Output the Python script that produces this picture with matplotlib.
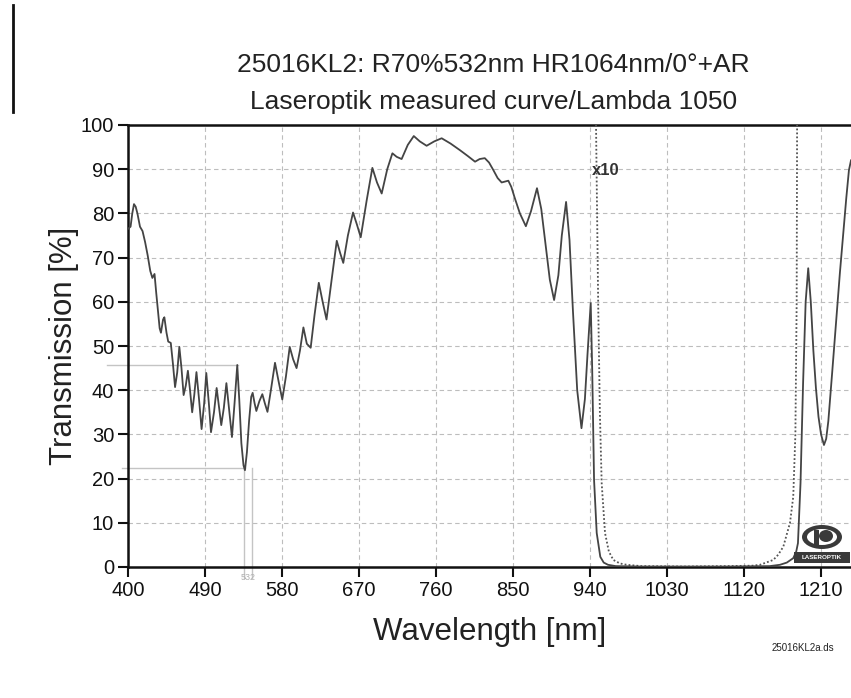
import matplotlib
matplotlib.use("Agg")
import matplotlib.pyplot as plt
from matplotlib.patches import Ellipse, Rectangle
from matplotlib.lines import Line2D

plt.rcParams['font.family'] = ['Liberation Sans', 'DejaVu Sans']

# ---------------- data ----------------
wl_solid = [400, 403, 405, 407, 409, 411, 414, 417, 420, 423, 426, 428.5, 431, 433, 435, 437, 438.5,
            441, 442.5, 445, 447, 450, 452.5, 455, 457.5, 460, 462.5, 465, 467.5, 470,
            472.5, 475, 477.5, 480, 483, 486, 489, 491.5, 494.5, 497, 500.5, 503.6, 506.5,
            509, 512, 515, 518.5, 521.5, 524.5, 527.7, 530, 532.5, 535, 536.7, 539, 541.5,
            544, 545.7, 548, 550, 553.5, 557, 560, 563, 567, 571.8, 576, 580.3, 584.5, 589,
            593, 597, 601, 605, 609, 613.5, 618, 623, 627.5, 632, 638, 644, 648, 651.6, 657,
            663, 667.5, 672, 679, 685.6, 691, 696.5, 703, 709, 714, 719.8, 727, 734, 741,
            749, 758, 766.6, 777, 788, 797, 805.6, 811, 817, 822, 827, 832, 836.7, 840.5,
            844.5, 848, 852, 858, 865, 871, 878, 883, 888, 893, 898, 903, 907, 912, 916,
            920, 925, 930, 934, 937, 940.8, 942.5, 944.7, 947.8, 952, 956, 961, 970, 1000,
            1100, 1150, 1162, 1170, 1177.5, 1181, 1183, 1186, 1189, 1192, 1195, 1198, 1201,
            1204, 1207, 1210, 1213.4, 1216, 1218.5, 1223, 1228, 1232, 1236, 1239.5, 1242.6, 1245]
t_solid = [76.5, 77, 80, 82.1, 81.5, 80, 77, 76, 73.5, 70.5, 67, 65.4, 66.3, 62, 58, 54, 53,
           56, 56.5, 53, 51, 50.7, 46, 40.7, 44, 49.8, 45, 38.9, 41, 44.4,
           40, 35, 39, 44.1, 38, 31.2, 37, 43.9, 37, 30.5, 35, 40.5, 36,
           32.1, 36, 41.6, 35, 29.4, 37, 45.7, 38, 28, 23, 21.9, 26, 33,
           38.5, 39.4, 37, 35.3, 37.5, 39.1, 37, 35.1, 40, 46.2, 42, 37.9, 43, 49.8,
           47, 45, 49, 54.2, 50.5, 49.6, 57, 64.3, 60, 56, 65, 73.8, 71, 68.8, 75,
           80.2, 77.5, 74.6, 83, 90.3, 87, 84.5, 90, 93.6, 92.8, 92.3, 95.5, 97.5, 96.3,
           95.3, 96.3, 97, 95.8, 94.3, 93, 91.7, 92.3, 92.5, 91.5, 89.8, 88, 87, 87.2,
           87.4, 86, 83.5, 80, 77.1, 80.5, 85.7, 81, 73, 65, 60.4, 66, 75, 82.6, 74,
           58, 40, 31.4, 38, 48, 59.7, 45, 19.7, 7.7, 2.3, 1, 0.5, 0.2, 0.1,
           0.1, 0.2, 0.5, 1, 2, 3.5, 5.4, 19, 41.6, 60, 67.6, 60, 49,
           40.5, 34, 30, 27.6, 29, 33, 44, 56.6, 66.5, 75.6, 83.5, 89.8, 92]

# "x10" magnified trace (dotted)
wl_x10 = [947, 949.5, 951.5, 953.6, 957.5, 962, 967.2, 975, 982.8, 1000, 1050, 1100,
          1130, 1138.7, 1154.2, 1160, 1165.9, 1173.7, 1177.5, 1180, 1181.5, 1182]
t_x10 = [100, 60, 35, 19, 7.7, 3.5, 1.6, 0.8, 0.5, 0.2, 0.1, 0.2,
         0.3, 0.5, 1.6, 2.8, 4.6, 10, 15.9, 30, 60, 100]

# hand-drawn marks on the scan (around 532 nm)
mark_h_levels = [45.7, 22.3]
mark_h_start = [375.5, 393]
mark_h_end = [528.5, 536.7]
mark_v_wl = [535.4, 544.7]

x_ticks = [400, 490, 580, 670, 760, 850, 940, 1030, 1120, 1210]
y_ticks = [0, 10, 20, 30, 40, 50, 60, 70, 80, 90, 100]

title1 = "25016KL2: R70%532nm HR1064nm/0°+AR"
title2 = "Laseroptik measured curve/Lambda 1050"

# ---------------- figure ----------------
W, H = 851, 698
fig = plt.figure(figsize=(W / 100, H / 100), dpi=100)
fig.patch.set_facecolor('white')

def fx(px):
    return px / W

def fy(py):
    return 1 - py / H

ax = fig.add_axes([fx(128), fy(567), fx(851) - fx(128), fy(125) - fy(567)])
ax.set_xlim(400, 1245)
ax.set_ylim(0, 100)

ax.grid(True, linestyle=(0, (4, 3)), color='#bdbdbd', linewidth=0.8)
ax.set_axisbelow(True)

for s in ['top', 'left', 'bottom']:
    ax.spines[s].set_linewidth(1.8)
    ax.spines[s].set_color('#111111')
ax.spines['right'].set_visible(False)

ax.set_xticks(x_ticks)
ax.set_yticks(y_ticks)
ax.tick_params(direction='out', length=7, width=1.5, color='#111111',
               labelsize=14.5, pad=3, labelcolor='#111111')

# hand marks
for lvl, a, b in zip(mark_h_levels, mark_h_start, mark_h_end):
    ax.plot([a, b], [lvl, lvl], color='#c4c4c4', lw=1.0, clip_on=False, zorder=2)
for v in mark_v_wl:
    ax.plot([v, v], [22.3, -2.5], color='#c4c4c4', lw=1.0, clip_on=False, zorder=2)
ax.text(540, -2.3, "532", fontsize=6.5, color='#b0b0b0', ha='center', va='center')

# curves
ax.plot(wl_x10, t_x10, color='#555555', lw=1.3, linestyle=(0, (1, 1.2)), zorder=3)
ax.plot(wl_solid, t_solid, color='#444444', lw=1.3, solid_joinstyle='round', zorder=4)

ax.text(942.3, 89.6, "x10", fontsize=12, fontweight='bold', color='#333333',
        ha='left', va='center', zorder=5)

ax.set_xlabel("Wavelength [nm]", fontsize=22.5, color='#222222', labelpad=12)
ax.set_ylabel("Transmission [%]", fontsize=22.5, color='#222222', labelpad=1)

fig.text(fx(493), fy(65), title1, fontsize=19, color='#222222', ha='center', va='center')
fig.text(fx(494), fy(102), title2, fontsize=19, color='#222222', ha='center', va='center')

fig.text(fx(772), fy(648), "25016KL2a.ds", fontsize=7, color='#222222', ha='left', va='center')

# logo
fig.add_artist(Ellipse((fx(822), fy(537)), 40 / W, 24 / H, transform=fig.transFigure,
                       facecolor='#3a3a3a', edgecolor='none'))
fig.add_artist(Ellipse((fx(822), fy(537)), 30 / W, 16 / H, transform=fig.transFigure,
                       facecolor='white', edgecolor='none'))
fig.add_artist(Ellipse((fx(826), fy(536)), 14 / W, 12 / H, transform=fig.transFigure,
                       facecolor='#3a3a3a', edgecolor='none'))
fig.add_artist(Rectangle((fx(814), fy(545)), 5 / W, 15 / H, transform=fig.transFigure,
                         facecolor='#3a3a3a', edgecolor='none'))
fig.add_artist(Rectangle((fx(794), fy(563)), 56 / W, 11 / H, transform=fig.transFigure,
                         facecolor='#3a3a3a', edgecolor='none'))
fig.text(fx(822), fy(557.5), "LASEROPTIK", fontsize=4.5, fontweight='bold', color='white',
         ha='center', va='center')

# scan edge line
fig.add_artist(Line2D([fx(13), fx(13)], [fy(5), fy(112)], transform=fig.transFigure,
                      color='#111111', lw=2))

fig.savefig("out.png", dpi=100, facecolor='white')
